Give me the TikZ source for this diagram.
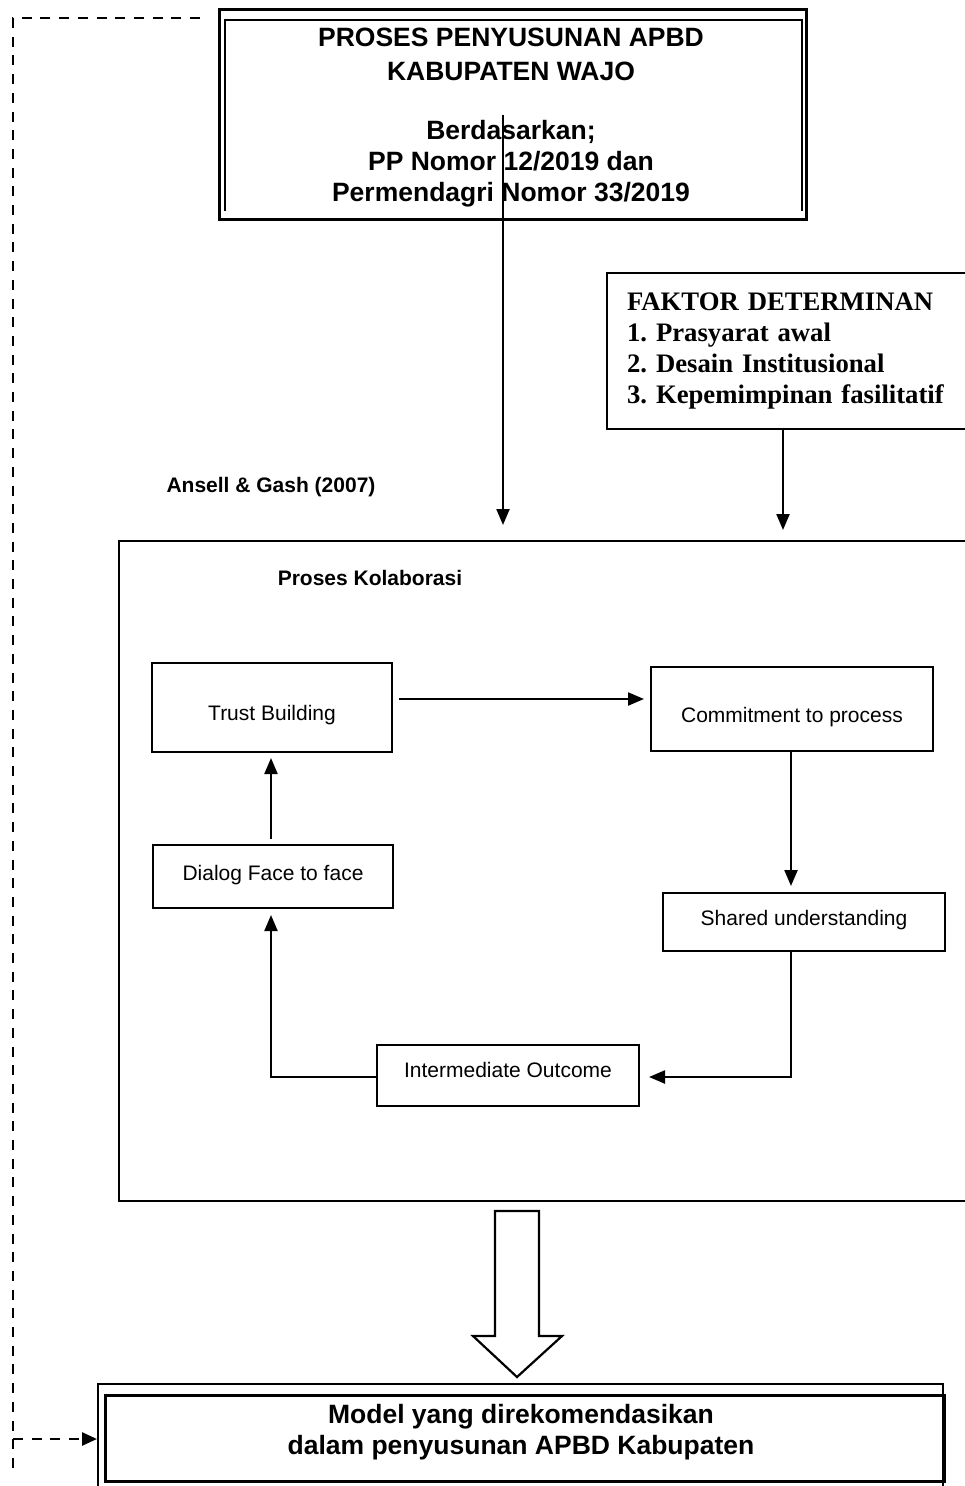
\documentclass[tikz,border=0pt]{standalone}
\usepackage{fontspec}
\setmainfont{Liberation Sans}
\newfontfamily\timesbf{Liberation Serif}[BoldFont={* Bold}]
\usetikzlibrary{arrows.meta,calc}

% box caption with its baseline moved by #1 below the box centre
\newcommand{\boxcap}[2]{\raisebox{#1}[0pt][0pt]{#2}}

\begin{document}
\begin{tikzpicture}[x=1pt,y=-1pt,
  box/.style={draw,line width=2pt,rectangle,inner sep=0pt,
    font=\fontsize{21}{25}\selectfont},
  arr/.style={line width=2.2pt,-{Triangle[length=16pt,width=13pt]}},
  dashconn/.style={line width=2.6pt,dash pattern=on 10pt off 8.7pt},
  dasharr/.style={dashconn,-{Triangle[length=15pt,width=13pt]}},
  frame/.style={draw,line width=3pt,rectangle,inner sep=0pt},
  innerframe/.style={line width=2.6pt},
  headtext/.style={font=\fontsize{26.5}{31}\bfseries\selectfont,align=center},
  label/.style={font=\fontsize{21}{25}\bfseries\selectfont}
]
\useasboundingbox (0,0) rectangle (964,1486);

% ---- top box: budgeting process ----
\node[frame,anchor=north west,minimum width=587pt,minimum height=210pt] (top) at (218,8) {};
\draw[innerframe] ($(top.south west)+(7,-10)$) |- ($(top.north east)+(-6,12)$)
  -- ($(top.south east)+(-6,-10)$);
\node[headtext] (toptext) at (511,117.5)
  {PROSES PENYUSUNAN APBD\\[3pt]KABUPATEN WAJO\\[28pt]Berdasarkan;\\PP Nomor 12/2019 dan\\Permendagri Nomor 33/2019};

% ---- determinant factors ----
\node[draw,line width=2.2pt,anchor=north west,minimum height=156pt,
  text width=324pt,inner xsep=20pt,inner ysep=0pt,align=left,
  font=\frenchspacing\timesbf\fontsize{26.7}{31}\bfseries\selectfont] (fak) at (606,272)
  {FAKTOR DETERMINAN\\1. Prasyarat awal\\2. Desain Institusional\\3. Kepemimpinan fasilitatif};

\node[label] (ansell) at (271,487) {Ansell \& Gash (2007)};

% ---- collaboration process frame ----
\node[draw,line width=2.4pt,anchor=north west,minimum width=852pt,minimum height=660pt] (proc) at (118,540) {};
\node[label] (prosestext) at (370,578) {Proses Kolaborasi};

% ---- cycle of the collaboration process ----
\node[box,minimum width=240pt,minimum height=89pt] (trust) at (272,707.5) {\boxcap{-13pt}{Trust Building}};
\node[box,minimum width=282pt,minimum height=84pt] (commit) at (792,709) {\boxcap{-13.5pt}{Commitment to process}};
\node[box,minimum width=240pt,minimum height=63pt] (dialog) at (273,876.5) {\boxcap{-4pt}{Dialog Face to face}};
\node[box,minimum width=282pt,minimum height=58pt] (shared) at (804,922) {\boxcap{-3.5pt}{Shared understanding}};
\node[box,minimum width=262pt,minimum height=61pt] (inter) at (508,1075.5) {\boxcap{-2pt}{Intermediate Outcome}};

% ---- recommended model ----
\node[draw,line width=2.4pt,anchor=north west,minimum width=845pt,minimum height=130pt] (model) at (97,1383) {};
\node[draw,line width=2.6pt,anchor=north west,minimum width=839pt,minimum height=86pt] (modelin) at (104,1394) {};
\node[headtext] (modeltext) at (521,1432)
  {Model yang direkomendasikan\\dalam penyusunan APBD Kabupaten};

% ---- connectors ----
\coordinate (a1) at (503,525);
\draw[arr] (a1 |- top.center) -- (a1);
\coordinate (a2) at (783,530);
\draw[arr] (a2 |- fak.south) -- (a2);

\draw[arr,shorten <=6pt,shorten >=6pt] ([yshift=8.5pt]trust.east) -- ([yshift=8.5pt]trust.east -| commit.west);
\draw[arr,shorten >=6pt] ([xshift=-1pt]commit.south) -- ([xshift=-1pt]commit.south |- shared.north);
\draw[arr,shorten >=9pt] ([xshift=-1pt]commit.south |- shared.south) |- ([yshift=-1.5pt]inter.east);
\draw[arr,shorten >=6pt] ([yshift=-1.5pt]inter.west) -| ([xshift=-2pt]dialog.south);
\draw[arr,shorten <=5pt,shorten >=5pt] ([xshift=-2pt]dialog.north) -- ([xshift=-2pt]dialog.north |- trust.south);

% hollow block arrow from the process to the model
\draw[line width=2.2pt,line join=miter]
  (495,1211) -- (539,1211) -- (539,1336) -- (562,1336) -- (517,1377)
  -- (473,1336) -- (495,1336) -- cycle;

% dashed feedback line from the budgeting process to the model
\coordinate (d0) at (13,1475);
\coordinate (d1) at (13,1439);
\draw[dashconn] ($(top.north west)+(-18,10)$) -| (d0);
\draw[dasharr] (d1) -- (d1 -| model.west);
\end{tikzpicture}
\end{document}
